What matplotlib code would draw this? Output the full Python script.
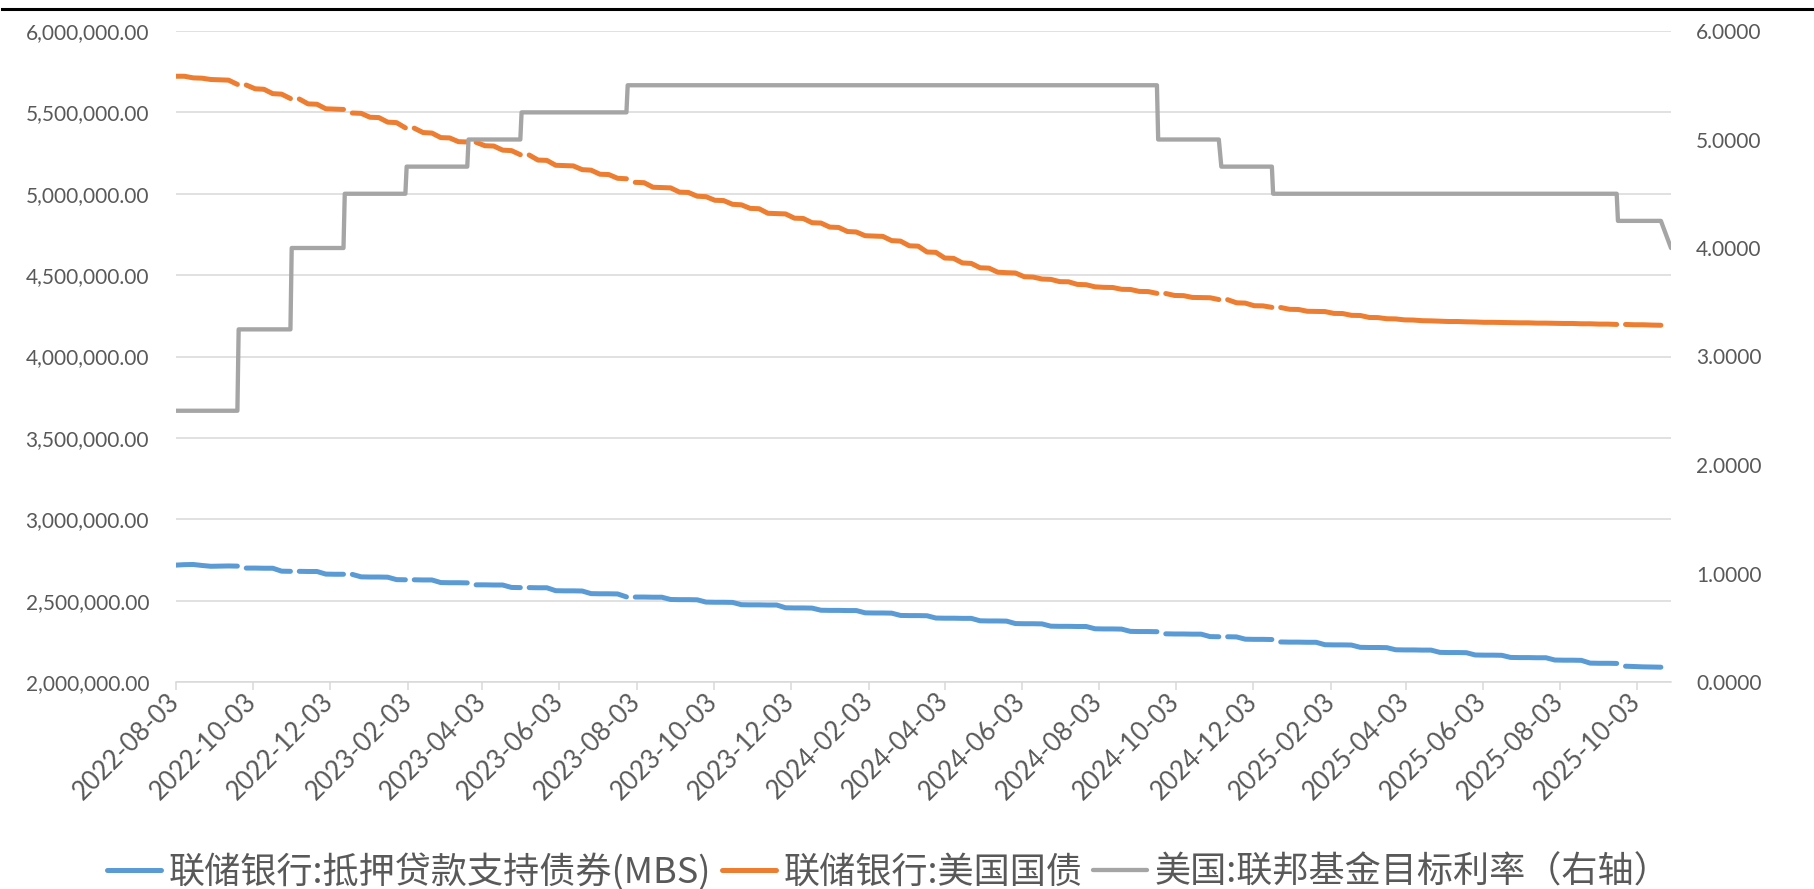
import matplotlib
matplotlib.use('Agg')
import matplotlib.pyplot as plt
import matplotlib.dates as mdates
from matplotlib.ticker import FuncFormatter, MultipleLocator
from matplotlib.lines import Line2D
from matplotlib.font_manager import FontProperties
import pandas as pd
import numpy as np

plt.rcParams['font.family'] = ['Lato', 'Noto Sans CJK SC', 'DejaVu Sans']

# ---------------- data ----------------
start_date = '2022-08-03'
last_week = '2025-10-22'
axis_end = '2025-10-30'

# rows of the source table where only the policy rate has a value (balance-sheet cells blank -> line breaks)
gap_dates = ['2022-09-22', '2022-11-03', '2022-12-15', '2023-02-02', '2023-03-23',
             '2023-05-04', '2023-07-27', '2024-09-19', '2024-11-08', '2024-12-19',
             '2025-09-18']

# Weekly (Wednesday) holdings, thousands of millions USD (x1000 -> millions)
mbs_k = [
    2718, 2721, 2722, 2716,
    2711, 2712, 2713, 2712,
    2700, 2700, 2699, 2699,
    2681, 2680, 2680, 2679, 2679,
    2663, 2662, 2662, 2661,
    2646, 2645, 2645, 2644,
    2629, 2628, 2628, 2627, 2627,
    2611, 2610, 2610, 2609,
    2597, 2597, 2596, 2596,
    2581, 2580, 2580, 2579, 2579,
    2561, 2560, 2560, 2559,
    2543, 2542, 2542, 2541,
    2523, 2522, 2522, 2521, 2521,
    2507, 2506, 2506, 2505,
    2491, 2490, 2490, 2489,
    2475, 2474, 2474, 2473, 2473,
    2456, 2455, 2455, 2454,
    2441, 2440, 2440, 2439, 2439,
    2425, 2424, 2424, 2423,
    2409, 2408, 2408, 2407,
    2393, 2392, 2392, 2391, 2391,
    2376, 2375, 2375, 2374,
    2359, 2358, 2358, 2357,
    2343, 2342, 2342, 2341, 2341,
    2327, 2326, 2326, 2325,
    2311, 2310, 2310, 2309,
    2296, 2295, 2295, 2294, 2294,
    2279, 2278, 2278, 2277,
    2263, 2262, 2262, 2261,
    2246, 2245, 2245, 2244, 2244,
    2229, 2228, 2228, 2227,
    2213, 2212, 2212, 2211,
    2198, 2197, 2197, 2196, 2196,
    2182, 2181, 2181, 2180,
    2166, 2165, 2165, 2164,
    2151, 2150, 2150, 2149, 2149,
    2135, 2134, 2134, 2133,
    2116, 2115, 2115, 2114,
    2097, 2095, 2093, 2092, 2091,
]

tsy_k = [
    5722, 5722, 5712, 5710, 5702, 5700, 5698, 5672, 5668, 5645,
    5642, 5615, 5612, 5585, 5582, 5552, 5550, 5522, 5520, 5518,
    5496, 5494, 5470, 5468, 5440, 5437, 5405, 5403, 5376, 5373,
    5345, 5343, 5320, 5318, 5316, 5295, 5293, 5268, 5265, 5240,
    5238, 5207, 5205, 5175, 5173, 5171, 5148, 5145, 5120, 5118,
    5095, 5092, 5070, 5068, 5040, 5038, 5036, 5010, 5008, 4985,
    4982, 4960, 4958, 4935, 4932, 4910, 4908, 4880, 4878, 4876,
    4850, 4848, 4822, 4820, 4795, 4793, 4768, 4765, 4742, 4740,
    4738, 4712, 4709, 4680, 4678, 4642, 4640, 4605, 4603, 4575,
    4572, 4545, 4543, 4518, 4515, 4513, 4490, 4488, 4476, 4474,
    4460, 4459, 4443, 4441, 4428, 4425, 4424, 4413, 4412, 4400,
    4399, 4388, 4387, 4375, 4374, 4363, 4362, 4361, 4350, 4349,
    4330, 4328, 4312, 4311, 4302, 4301, 4290, 4289, 4278, 4277,
    4276, 4265, 4264, 4253, 4252, 4240, 4239, 4232, 4231, 4225,
    4224, 4220, 4219, 4217, 4215, 4215, 4213, 4212, 4210, 4210,
    4209, 4208, 4207, 4207, 4205, 4205, 4204, 4203, 4203, 4201,
    4201, 4199, 4199, 4197, 4197, 4195, 4195, 4193, 4192,
]

fed_dates = ['2022-08-03', '2022-09-21', '2022-09-22', '2022-11-02', '2022-11-03',
             '2022-12-14', '2022-12-15', '2023-02-01', '2023-02-02', '2023-03-22',
             '2023-03-23', '2023-05-03', '2023-05-04', '2023-07-26', '2023-07-27',
             '2024-09-18', '2024-09-19', '2024-11-06', '2024-11-08', '2024-12-18',
             '2024-12-19', '2025-09-17', '2025-09-18', '2025-10-22', '2025-10-30']
fed_rate = [2.50, 2.50, 3.25, 3.25, 4.00,
            4.00, 4.50, 4.50, 4.75, 4.75,
            5.00, 5.00, 5.25, 5.25, 5.50,
            5.50, 5.00, 5.00, 4.75, 4.75,
            4.50, 4.50, 4.25, 4.25, 4.00]

labels = ['联储银行:抵押贷款支持债券(MBS)', '联储银行:美国国债', '美国:联邦基金目标利率（右轴）']
colors = ['#5B9BD5', '#ED7D31', '#A5A5A5']
unit = 1000

# ---------------- build series ----------------
weeks = pd.date_range(start_date, last_week, freq='7D')
assert len(weeks) == len(mbs_k) == len(tsy_k), (len(weeks), len(mbs_k), len(tsy_k))
all_dates = weeks.append(pd.to_datetime(gap_dates)).sort_values()
mbs = (pd.Series(mbs_k, index=weeks) * unit).reindex(all_dates)
tsy = (pd.Series(tsy_k, index=weeks) * unit).reindex(all_dates)
fed_x = pd.to_datetime(fed_dates)

# ---------------- figure ----------------
W, H = 1814, 889
fig = plt.figure(figsize=(W / 100, H / 100), dpi=100)
L, R, T, B = 175.5, 1671, 31, 682
ax = fig.add_axes([L / W, 1 - B / H, (R - L) / W, (B - T) / H])
ax2 = ax.twinx()

txt = '#595959'
grid = '#D9D9D9'

lw = 3.6
l1, = ax.plot(mbs.index, mbs.values, color=colors[0], lw=lw,
              solid_capstyle='round', solid_joinstyle='round')
l2, = ax.plot(tsy.index, tsy.values, color=colors[1], lw=lw,
              solid_capstyle='round', solid_joinstyle='round')
l3, = ax2.plot(fed_x, fed_rate, color=colors[2], lw=3.1,
               solid_capstyle='round', solid_joinstyle='round')

ax.set_xlim(pd.Timestamp(start_date), pd.Timestamp(axis_end))
ax.set_ylim(2_000_000, 6_000_000)
ax.yaxis.set_major_locator(MultipleLocator(500_000))
ax.yaxis.set_major_formatter(FuncFormatter(lambda v, p: f'{v:,.2f}'))
ax2.set_ylim(0, 6)
ax2.yaxis.set_major_locator(MultipleLocator(1))
ax2.yaxis.set_major_formatter(FuncFormatter(lambda v, p: f'{v:.4f}'))

ax.grid(axis='y', color=grid, lw=1.1)
ax.set_axisbelow(True)
for s in ['top', 'left', 'right']:
    ax.spines[s].set_visible(False)
    ax2.spines[s].set_visible(False)
ax2.spines['bottom'].set_visible(False)
ax.spines['bottom'].set_color(grid)
ax.spines['bottom'].set_linewidth(1.1)

ax.xaxis.set_major_locator(mdates.MonthLocator(bymonth=range(2, 13, 2), bymonthday=3))
ax.xaxis.set_major_formatter(mdates.DateFormatter('%Y-%m-%d'))
ax.tick_params(axis='x', length=6, width=1.1, color=grid, labelcolor=txt,
               labelsize=18.5, pad=5)
for lab in ax.get_xticklabels():
    lab.set_rotation(45)
    lab.set_ha('right')
    lab.set_va('center')
    lab.set_rotation_mode('anchor')
ax.tick_params(axis='y', length=0, labelcolor=txt, labelsize=15, pad=19)
ax2.tick_params(axis='y', length=0, labelcolor=txt, labelsize=15, pad=18)

fig.legend([l1, l2, l3], labels, loc='lower center', bbox_to_anchor=(0.49, -0.018),
           ncol=3, frameon=False, prop=FontProperties(family=['Noto Sans CJK SC'], size=26),
           handlelength=1.5, handletextpad=0.2, columnspacing=0.3, labelcolor=txt,
           borderaxespad=0)

fig.add_artist(Line2D([0.001, 1.0], [1 - 9 / H] * 2, transform=fig.transFigure,
                      color='black', lw=2.2))

fig.savefig('out.png', dpi=100, facecolor='white')
